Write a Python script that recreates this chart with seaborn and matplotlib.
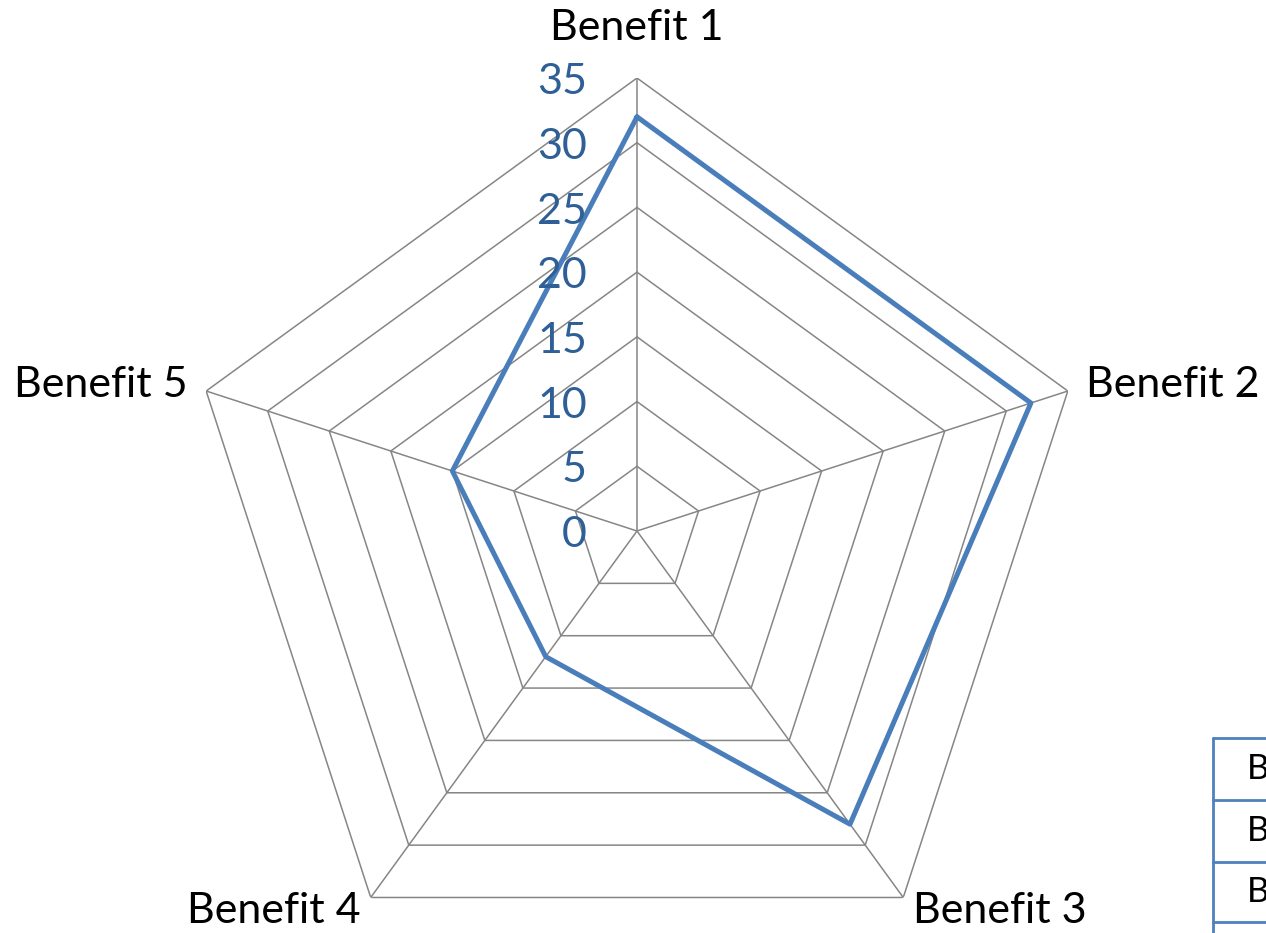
import numpy as np
import pandas as pd
import matplotlib
matplotlib.use("Agg")
import matplotlib.pyplot as plt
import seaborn as sns
from matplotlib.lines import Line2D

# data
benefits = ["Benefit 1", "Benefit 2", "Benefit 3", "Benefit 4", "Benefit 5"]
scores = [32, 32, 28, 12, 15]
r_ticks = [0, 5, 10, 15, 20, 25, 30, 35]
table_rows = ["Benefit 1", "Benefit 2", "Benefit 3"]

sns.set_style("white")
plt.rcParams["font.family"] = ["Lato", "DejaVu Sans"]

grid_color = "#868686"
line_color = "#4A7EBB"
tick_color = "#2E5F96"

W, H = 1266, 933
fig = plt.figure(figsize=(W / 100, H / 100), dpi=100)
cx, cy, R = 637, 531, 453
ax = fig.add_axes([(cx - R) / W, (H - cy - R) / H, 2 * R / W, 2 * R / H],
                  projection="polar")
ax.set_theta_zero_location("N")
ax.set_theta_direction(-1)

n = len(benefits)
theta = np.arange(n) * 2 * np.pi / n
theta_closed = np.append(theta, 2 * np.pi)

# polygon grid
for r in r_ticks[1:]:
    ax.plot(theta_closed, [r] * (n + 1), color=grid_color, lw=1.1, zorder=1)
for t in theta:
    ax.plot([t, t], [0, r_ticks[-1]], color=grid_color, lw=1.1, zorder=1)

# data line (closed back to Benefit 1)
df = pd.DataFrame({"theta": theta_closed, "score": scores + [scores[0]]})
sns.lineplot(data=df, x="theta", y="score", sort=False, ax=ax,
             color=line_color, lw=3.6, zorder=3)

ax.set_ylim(0, r_ticks[-1])
ax.grid(False)
ax.spines["polar"].set_visible(False)
ax.set_xticks([])
ax.set_yticks([])
ax.set_xlabel("")
ax.set_ylabel("")

# radial tick labels
for r in r_ticks:
    ax.annotate(str(r), xy=(0, r), xytext=(-36, -3), textcoords="offset points",
                ha="right", va="center", fontsize=31, color=tick_color)

# category labels
label_pos = [(0, 38.9, "center", "center"),
             (theta[1], 36.5, "left", "center"),
             (theta[2], 36.3, "left", "center"),
             (theta[3], 36.3, "right", "center"),
             (theta[4], 36.5, "right", "center")]
for name, (t, r, ha, va) in zip(benefits, label_pos):
    ax.text(t, r, name, ha=ha, va=va, fontsize=31, color="black", clip_on=False)

# partially visible data table at bottom right
tcol = "#4F81BD"
x0 = 1213
row_y = [738, 800, 862, 922]
fig.add_artist(Line2D([x0 / W, x0 / W], [0, 1 - row_y[0] / H],
                      transform=fig.transFigure, color=tcol, lw=2))
for y in row_y:
    fig.add_artist(Line2D([x0 / W, 1], [1 - y / H, 1 - y / H],
                          transform=fig.transFigure, color=tcol, lw=2))
for name, y0, y1 in zip(table_rows, row_y[:-1], row_y[1:]):
    fig.text(1247 / W, 1 - (y0 + y1) / 2 / H, name, ha="left", va="center",
             fontsize=25, color="black")

fig.savefig("out.png", dpi=100, facecolor="white")
